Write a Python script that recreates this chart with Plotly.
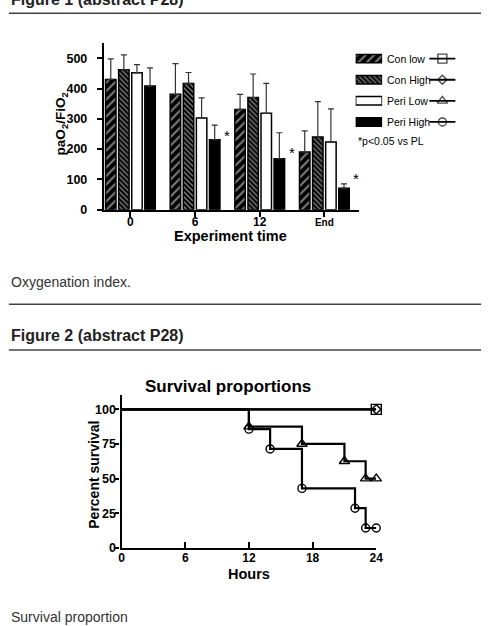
import plotly.graph_objects as go

W, H = 492, 626
def px(x): return x / W
def py(y): return 1 - y / H

FONT = "Liberation Sans, Arial, Helvetica, sans-serif"

# ---------------- Figure 1 data (oxygenation index) ----------------
groups = ["0", "6", "12", "End"]
group_labels = ["0", "6", "12", "<span style='font-size:10px'>End</span>"]
con_low = [430, 381, 331, 190]
con_low_sd = [68, 101, 50, 70]
con_high = [462, 417, 370, 240]
con_high_sd = [49, 36, 78, 117]
peri_low = [452, 303, 318, 223]
peri_low_sd = [27, 66, 99, 110]
peri_high = [408, 231, 168, 71]
peri_high_sd = [60, 48, 86, 14]
sig_group_index = [1, 2, 3]
sig_y = [245, 188, 104]
series_names = ["Con low", "Con High", "Peri Low", "Peri High"]
y1_ticks = [0, 100, 200, 300, 400, 500]

# ---------------- Figure 2 data (survival) ----------------
con_low_t = [0, 24]
con_low_s = [100, 100]
con_high_t = [0, 24]
con_high_s = [100, 100]
peri_low_t = [0, 12, 17, 21, 23, 24]
peri_low_s = [100, 87.5, 75, 62.5, 50, 50]
peri_high_t = [0, 12, 14, 17, 22, 23, 24]
peri_high_s = [100, 85.7, 71.4, 42.9, 28.6, 14.3, 14.3]
x2_ticks = [0, 6, 12, 18, 24]
y2_ticks = [0, 25, 50, 75, 100]

fig = go.Figure()

bar_styles = [
    dict(color="black", pattern=dict(shape="/", bgcolor="black", fgcolor="white", size=6, solidity=0.35)),
    dict(color="black", pattern=dict(shape="\\", bgcolor="black", fgcolor="white", size=3.5, solidity=0.4)),
    dict(color="white"),
    dict(color="black"),
]
vals = [con_low, con_high, peri_low, peri_high]
sds = [con_low_sd, con_high_sd, peri_low_sd, peri_high_sd]
for name, v, sd, st in zip(series_names, vals, sds, bar_styles):
    fig.add_trace(go.Bar(
        x=groups, y=v, name=name, showlegend=False,
        marker=dict(line=dict(color="black", width=1.5), **st),
        error_y=dict(type="data", symmetric=False, array=sd, arrayminus=[0] * len(sd),
                     color="#333", thickness=1.2, width=3),
        xaxis="x", yaxis="y"))

# Legend swatches (hidden axes)
for i, (name, st) in enumerate(zip(series_names, bar_styles)):
    fig.add_trace(go.Bar(
        x=[1], y=[i], orientation="h", width=0.4, showlegend=False,
        marker=dict(line=dict(color="black", width=1.5), **st),
        xaxis="x3", yaxis="y3"))

symbols = ["square-open", "diamond-open", "triangle-up-open", "circle-open"]
sym_sizes = [9, 7, 9, 8]
for i, (sym, sz) in enumerate(zip(symbols, sym_sizes)):
    fig.add_trace(go.Scatter(
        x=[0, 0.5, 1], y=[i, i, i], mode="lines+markers", showlegend=False,
        line=dict(color="black", width=1.8),
        marker=dict(symbol=sym, size=[0, sz, 0], color="black", line=dict(width=1.4)),
        xaxis="x4", yaxis="y4", cliponaxis=False))

# Survival curves
surv = [(con_low_t, con_low_s, "square-open", 10),
        (con_high_t, con_high_s, "diamond-open", 7),
        (peri_low_t, peri_low_s, "triangle-up-open", 9),
        (peri_high_t, peri_high_s, "circle-open", 8)]
for (t, s, sym, sz), name in zip(surv, series_names):
    fig.add_trace(go.Scatter(
        x=t, y=s, mode="lines", line=dict(color="black", width=2.2, shape="hv"),
        name=name, showlegend=False, xaxis="x2", yaxis="y2", cliponaxis=False))
    fig.add_trace(go.Scatter(
        x=t[1:], y=s[1:], mode="markers", showlegend=False,
        marker=dict(symbol=sym, size=sz, color="black", line=dict(width=1.4)),
        xaxis="x2", yaxis="y2", cliponaxis=False))

def axis_common(size=12.5):
    return dict(showline=True, linecolor="black", linewidth=2.2, showgrid=False,
                zeroline=False, tickcolor="black", tickwidth=2,
                tickfont=dict(family=FONT, size=size, color="black", weight="bold"))

fig.update_layout(
    width=W, height=H, margin=dict(l=0, r=0, t=0, b=0),
    paper_bgcolor="white", plot_bgcolor="rgba(0,0,0,0)",
    barmode="group", bargap=0.19, bargroupgap=0.2,
    font=dict(family=FONT, color="black"),
    xaxis=dict(domain=[px(103), px(363)], range=[-0.41, 3.53], type="category",
               tickmode="array", tickvals=groups, ticktext=group_labels,
               ticks="outside", ticklen=5, ticklabelstandoff=-5, anchor="y", **axis_common(12)),
    yaxis=dict(domain=[py(212), py(43)], range=[0, 552], tickvals=y1_ticks,
               ticks="outside", ticklen=5, ticklabelstandoff=7, anchor="x", **axis_common()),
    xaxis2=dict(domain=[px(121), px(381)], range=[0, 24], tickvals=x2_ticks,
                ticks="inside", ticklen=6, ticklabelstandoff=-2, anchor="y2", **axis_common(12)),
    yaxis2=dict(domain=[py(554), py(399)], range=[0, 110.7], tickvals=y2_ticks,
                ticks="outside", ticklen=4, ticklabelstandoff=-3, anchor="x2", **axis_common()),
    xaxis3=dict(domain=[px(360), px(387)], range=[0, 1], visible=False, anchor="y3"),
    yaxis3=dict(domain=[py(134), py(48.6)], range=[3.5, -0.5], visible=False, anchor="x3"),
    xaxis4=dict(domain=[px(435), px(462)], range=[0, 1], visible=False, anchor="y4"),
    yaxis4=dict(domain=[py(134), py(48.6)], range=[3.5, -0.5], visible=False, anchor="x4"),
)

ann = []
def text(x, y, s, size, bold=False, xanchor="left", angle=0, color="#222"):
    ann.append(dict(x=px(x), y=py(y), xref="paper", yref="paper", text=s, showarrow=False,
                    xanchor=xanchor, yanchor="middle", textangle=angle,
                    font=dict(family=FONT, size=size, color=color,
                              weight="bold" if bold else "normal")))

text(6, -1, "Figure 1 (abstract P28)", 16, bold=True)
text(6, 285, "Oxygenation index.", 14, color="#333")
text(6, 339, "Figure 2 (abstract P28)", 16, bold=True)
text(6, 624, "Survival proportion", 14, color="#333")

# Figure 1 titles
text(60, 125, "paO<sub>2</sub>/FiO<sub>2</sub>", 13.5, bold=True, xanchor="center", angle=-90, color="black")
text(232, 239, "Experiment time", 14.5, bold=True, xanchor="center", color="black")
legend_rows_y = [59.3, 80.7, 102, 123.3]
for n, yy in zip(series_names, legend_rows_y):
    text(390, yy, n, 10.5, color="black")
text(360, 143, "*p&lt;0.05 vs PL", 10.5, color="black")
for gi, yv in zip(sig_group_index, sig_y):
    ann.append(dict(x=gi, y=yv, xref="x", yref="y", text="*", showarrow=False,
                    xanchor="center", yanchor="middle", xshift=32,
                    font=dict(family=FONT, size=15, color="black")))

# Figure 2 titles
text(230, 391, "Survival proportions", 17, bold=True, xanchor="center", color="black")
text(93, 480, "Percent survival", 14, bold=True, xanchor="center", angle=-90, color="black")
text(251, 580, "Hours", 14.5, bold=True, xanchor="center", color="black")

fig.update_layout(annotations=ann)

shapes = []
for yy in [13.3, 307.7, 354]:
    shapes.append(dict(type="line", xref="paper", yref="paper", x0=px(6), x1=px(488),
                       y0=py(yy), y1=py(yy), line=dict(color="#444", width=1.5)))
fig.update_layout(shapes=shapes)

fig.write_html("out.html")
